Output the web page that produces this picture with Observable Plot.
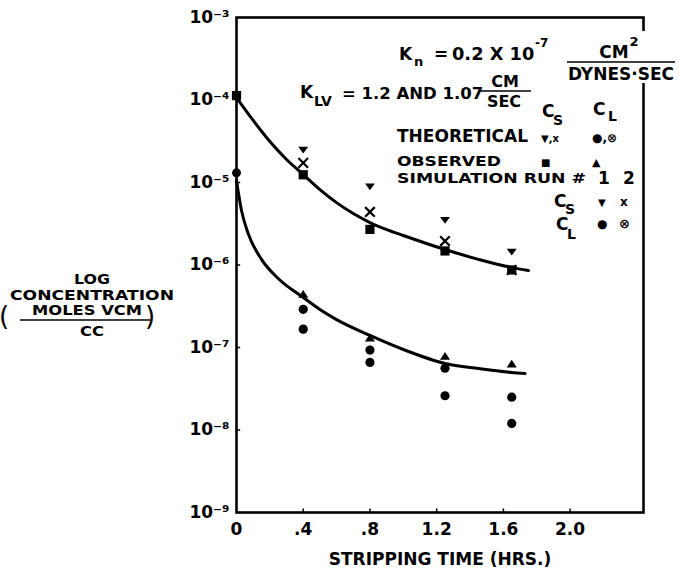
<!DOCTYPE html>
<html><head><meta charset="utf-8">
<script src="https://cdn.jsdelivr.net/npm/d3@7"></script>
<script src="https://cdn.jsdelivr.net/npm/@observablehq/plot@0.6"></script>
<style>body{margin:0;background:#fff} svg{display:block}</style>
</head><body><div id="chart"></div>
<script>
// ---- axis ticks ----
const xTicks = [0, 0.4, 0.8, 1.2, 1.6, 2.0];
const xTickLabels = ["0", ".4", ".8", "1.2", "1.6", "2.0"];
const yTicks = [1e-9, 1e-8, 1e-7, 1e-6, 1e-5, 1e-4, 1e-3];
const yTickLabels = ["10⁻⁹", "10⁻⁸", "10⁻⁷", "10⁻⁶", "10⁻⁵", "10⁻⁴", "10⁻³"];
const xTitle = "STRIPPING TIME (HRS.)";

// ---- fitted curves ----
const csCurveT = [0, 0.1, 0.2, 0.3, 0.4, 0.5, 0.6, 0.7, 0.8, 0.9, 1.0, 1.25, 1.45, 1.65, 1.75];
const csCurveC = [1.07e-4, 5.65e-5, 3.14e-5, 1.90e-5, 1.25e-5, 8.2e-6, 5.7e-6, 4.2e-6, 3.27e-6, 2.69e-6, 2.28e-6, 1.54e-6, 1.17e-6, 9.3e-7, 8.6e-7];
const clCurveT = [0, 0.03, 0.07, 0.15, 0.25, 0.4, 0.5, 0.6, 0.8, 1.0, 1.25, 1.45, 1.65, 1.73];
const clCurveC = [1.06e-5, 4.58e-6, 2.41e-6, 1.17e-6, 6.86e-7, 4.04e-7, 2.89e-7, 2.18e-7, 1.40e-7, 9.46e-8, 6.4e-8, 5.56e-8, 4.98e-8, 4.84e-8];

// ---- points ----
const csObsT = [0, 0.4, 0.8, 1.25, 1.65];
const csObsC = [1.13e-4, 1.24e-5, 2.7e-6, 1.48e-6, 8.7e-7];
const csRun1T = [0.4, 0.8, 1.25, 1.65];
const csRun1C = [2.49e-5, 8.9e-6, 3.5e-6, 1.44e-6];
const csRun2T = [0.4, 0.8, 1.25, 1.65];
const csRun2C = [1.73e-5, 4.4e-6, 1.95e-6, 8.7e-7];
const clObsT = [0.4, 0.8, 1.25, 1.65];
const clObsC = [4.4e-7, 1.30e-7, 7.8e-8, 6.3e-8];
const clTheoT = [0];
const clTheoC = [1.31e-5];
const clRun1T = [0.4, 0.8, 1.25, 1.65];
const clRun1C = [2.9e-7, 9.3e-8, 5.6e-8, 2.5e-8];
const clRun2T = [0.4, 0.8, 1.25, 1.65];
const clRun2C = [1.67e-7, 6.6e-8, 2.6e-8, 1.2e-8];

const zip = (T, C) => T.map((t, i) => ({t, c: C[i]}));

// custom symbols
const triDown = {draw(ctx, size) { const r = Math.sqrt(size / Math.PI);
  ctx.moveTo(-1.1 * r, -0.7 * r); ctx.lineTo(1.1 * r, -0.7 * r); ctx.lineTo(0, 0.8 * r); ctx.closePath(); }};
const triUp = {draw(ctx, size) { const r = Math.sqrt(size / Math.PI);
  ctx.moveTo(0, -0.95 * r); ctx.lineTo(1.1 * r, 0.75 * r); ctx.lineTo(-1.1 * r, 0.75 * r); ctx.closePath(); }};
const sq = {draw(ctx, size) { const r = Math.sqrt(size / Math.PI);
  ctx.rect(-r, -r, 2 * r, 2 * r); }};
const cross = {draw(ctx, size) { const r = Math.sqrt(size / Math.PI);
  ctx.moveTo(-r, -r); ctx.lineTo(r, r); ctx.moveTo(r, -r); ctx.lineTo(-r, r); }};

const FONT = "DejaVu Sans";

const plot = Plot.plot({
  width: 679, height: 568,
  marginLeft: 236, marginRight: 36, marginTop: 17, marginBottom: 56,
  x: {domain: [0, 2.44]},
  y: {type: "log", domain: [1e-9, 1e-3]},
  style: {fontFamily: FONT, fontWeight: "bold", fontSize: "17px", color: "black", background: "white"},
  marks: [
    Plot.frame({strokeWidth: 2.6}),
    Plot.axisX({ticks: xTicks, tickFormat: d => xTickLabels[xTicks.indexOf(d)], tickSize: 0, tickPadding: 10,
      fontSize: 17, label: null}),
    Plot.axisY({ticks: yTicks, tickFormat: d => yTickLabels[yTicks.indexOf(d)], tickSize: 0, tickPadding: 7,
      fontSize: 17, label: null}),
    Plot.link(yTicks.slice(1, -1), {x1: 0, x2: 0.022, y1: d => d, y2: d => d, strokeWidth: 1.5}),
    Plot.link(xTicks.slice(1), {x1: d => d, x2: d => d, y1: 1e-9, y2: 1.12e-9, strokeWidth: 1.5}),
    Plot.line(zip(csCurveT, csCurveC), {x: "t", y: "c", strokeWidth: 3, curve: "monotone-x"}),
    Plot.line(zip(clCurveT, clCurveC), {x: "t", y: "c", strokeWidth: 3, curve: "monotone-x"}),
    Plot.dot(zip(csObsT, csObsC), {x: "t", y: "c", symbol: sq, r: 4.6, fill: "black", stroke: "none"}),
    Plot.dot(zip(csRun1T, csRun1C), {x: "t", y: "c", symbol: triDown, r: 4.5, fill: "black", stroke: "none"}),
    Plot.dot(zip(csRun2T, csRun2C), {x: "t", y: "c", symbol: cross, r: 4.8, fill: "none", stroke: "black", strokeWidth: 2.2}),
    Plot.dot(zip(clObsT, clObsC), {x: "t", y: "c", symbol: triUp, r: 4.6, fill: "black", stroke: "none"}),
    Plot.dot(zip(clTheoT, clTheoC), {x: "t", y: "c", r: 4.5, fill: "black", stroke: "none"}),
    Plot.dot(zip(clRun1T, clRun1C), {x: "t", y: "c", r: 4.6, fill: "black", stroke: "none"}),
    Plot.dot(zip(clRun2T, clRun2C), {x: "t", y: "c", r: 4.6, fill: "black", stroke: "none"})
  ]
});
document.getElementById("chart").appendChild(plot);

// ---- annotations (pixel layout) ----
const svg = d3.select(plot);
const g = svg.append("g").attr("font-family", FONT).attr("font-weight", "bold").attr("fill", "black");
// white gap in right border behind the fraction
g.append("rect").attr("x", 560).attr("y", 31).attr("width", 119).attr("height", 52).attr("fill", "white");

const notes = [
  // text, x, y(baseline), size, anchor, textLength
  ["K", 399, 60, 17, "start"], ["n", 414, 66, 13, "start"],
  ["=", 434, 60, 17, "start"], ["0.2 X 10", 452, 60, 17.8, "start"], ["-7", 535, 47, 12, "start"],
  ["CM", 614, 58, 17, "middle"], ["2", 634, 46, 13, "middle"],
  ["DYNES·SEC", 621, 80, 17, "middle"],
  ["K", 300, 98, 17, "start"], ["LV", 314, 106, 14, "start"],
  ["= 1.2 AND 1.07", 342, 99, 16.5, "start"],
  ["CM", 505, 87, 16, "middle"], ["SEC", 504, 107, 16, "middle"],
  ["C", 542, 117, 17, "start"], ["S", 553, 125, 14, "start"],
  ["C", 593, 115, 17, "start"], ["L", 608, 121, 14, "start"],
  ["THEORETICAL", 397, 142, 17, "start"],
  ["▼,x", 541, 142, 10, "start"], ["●,⊗", 592, 142, 12, "start"],
  ["OBSERVED", 397, 166, 14.5, "start", 104],
  ["■", 541, 166, 10, "start"], ["▲", 592, 166, 11, "start"],
  ["SIMULATION RUN #", 397, 183, 14.5, "start", 189], ["1", 598, 184, 17, "start"], ["2", 623, 184, 17, "start"],
  ["C", 554, 207, 17, "start"], ["S", 565, 214, 14, "start"],
  ["▼", 598, 206, 10, "start"], ["x", 620, 206, 12, "start"],
  ["C", 556, 230, 17, "start"], ["L", 567, 239, 14, "start"],
  ["●", 597, 228, 12, "start"], ["⊗", 619, 228, 13, "start"],
  // y-axis title
  ["LOG", 92, 284, 14.5, "middle", 36], ["CONCENTRATION", 92, 300, 14.5, "middle", 164],
  ["MOLES VCM", 87, 315, 14.5, "middle", 110], ["CC", 92, 336, 14.5, "middle", 24],
  // x-axis title
  [xTitle, 440, 565, 17, "middle"]
];
for (const [s, x, y, size, anchor, len] of notes) {
  const t = g.append("text").attr("x", x).attr("y", y).attr("font-size", size).attr("text-anchor", anchor).text(s);
  if (len) t.attr("textLength", len).attr("lengthAdjust", "spacingAndGlyphs");
}
// fraction bars
const bars = [[567, 675, 62], [480, 531, 91], [20, 150, 320]];
for (const [x1, x2, y] of bars) {
  g.append("line").attr("x1", x1).attr("x2", x2).attr("y1", y).attr("y2", y).attr("stroke", "black").attr("stroke-width", 1.6);
}
// parentheses of y title
g.append("text").attr("x", 4).attr("y", 325).attr("font-size", 26).attr("font-weight", "normal").text("(");
g.append("text").attr("x", 150).attr("y", 325).attr("font-size", 26).attr("font-weight", "normal").text(")");
</script>
</body></html>
